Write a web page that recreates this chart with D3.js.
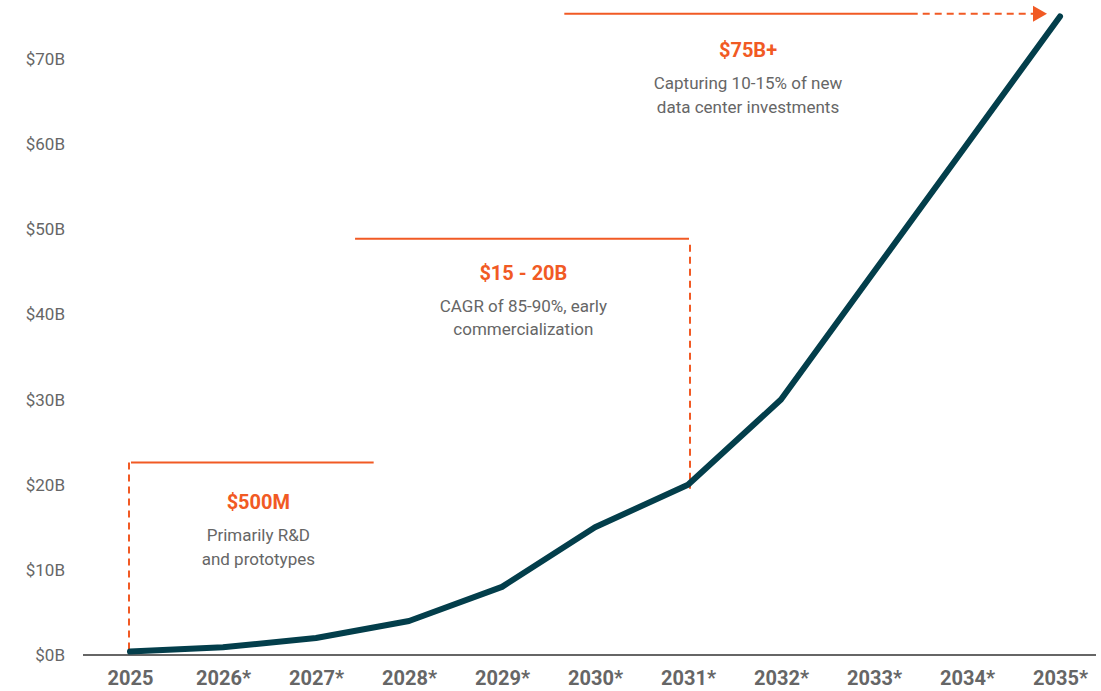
<!DOCTYPE html>
<html>
<head>
<meta charset="utf-8">
<script src="https://cdn.jsdelivr.net/npm/d3@7"></script>
<style>
  body { margin: 0; background: #fff; }
  text { font-family: Roboto, "Open Sans", sans-serif; }
</style>
</head>
<body>
<div id="chart"></div>
<script>
const width = 1101;
const height = 691;

// market size, $B
const years = ["2025", "2026*", "2027*", "2028*", "2029*", "2030*", "2031*", "2032*", "2033*", "2034*", "2035*"];
const values = [0.4, 0.9, 2, 4, 8, 15, 20, 30, 45, 60, 75];
const yTicks = [0, 10, 20, 30, 40, 50, 60, 70];

// annotation brackets: start/end in year index, level in $B
const noteTitles = ["$500M", "$15 - 20B", "$75B+"];
const noteLines = [
  ["Primarily R&D", "and prototypes"],
  ["CAGR of 85-90%, early", "commercialization"],
  ["Capturing 10-15% of new", "data center investments"]
];
const noteLevels = [22.6, 48.9, 75.3];
const noteFrom = [0, 2.42, 4.67];
const noteTo = [2.62, 6, 9.86];

const orange = "#f15a24";
const grey = "#666";

const svg = d3.select("#chart").append("svg")
    .attr("width", width).attr("height", height);

const x = d3.scaleLinear().domain([0, 10]).range([130, 1060]);
const y = d3.scaleLinear().domain([0, 70]).range([655, 59]);

// y labels
svg.append("g")
    .attr("transform", "translate(65,0)")
    .call(d3.axisLeft(y).tickValues(yTicks).tickSize(0).tickPadding(0).tickFormat(d => `$${d}B`))
    .call(g => g.select(".domain").remove())
    .selectAll("text")
    .attr("font-size", 17).attr("fill", grey)
    .attr("font-family", "Roboto, sans-serif");

// x axis
const xAxis = svg.append("g")
    .attr("transform", `translate(0,${y(0)})`)
    .call(d3.axisBottom(x).tickValues(d3.range(years.length)).tickSize(0).tickPadding(16)
        .tickFormat(i => years[i]));
xAxis.select(".domain").remove();
xAxis.selectAll("text")
    .attr("font-size", 20).attr("font-weight", "bold").attr("fill", grey)
    .attr("font-family", "Roboto, sans-serif");
svg.append("line")
    .attr("x1", 83).attr("x2", 1096)
    .attr("y1", y(0)).attr("y2", y(0))
    .attr("stroke", grey).attr("stroke-width", 2);

// brackets
const notes = svg.append("g");

// note 1: dashed left side, solid top
notes.append("line")
    .attr("x1", x(noteFrom[0]) - 1).attr("x2", x(noteFrom[0]) - 1)
    .attr("y1", y(noteLevels[0])).attr("y2", y(0) - 5)
    .attr("stroke", orange).attr("stroke-width", 2).attr("stroke-dasharray", "7,5");
notes.append("line")
    .attr("x1", x(noteFrom[0]) + 1).attr("x2", x(noteTo[0]))
    .attr("y1", y(noteLevels[0])).attr("y2", y(noteLevels[0]))
    .attr("stroke", orange).attr("stroke-width", 2);

// note 2: solid top, dashed right side
notes.append("line")
    .attr("x1", x(noteFrom[1])).attr("x2", x(noteTo[1]) + 1)
    .attr("y1", y(noteLevels[1])).attr("y2", y(noteLevels[1]))
    .attr("stroke", orange).attr("stroke-width", 2);
notes.append("line")
    .attr("x1", x(noteTo[1]) + 2).attr("x2", x(noteTo[1]) + 2)
    .attr("y1", y(noteLevels[1]) + 6).attr("y2", y(values[6]) + 4)
    .attr("stroke", orange).attr("stroke-width", 2).attr("stroke-dasharray", "7,5");

// note 3: solid then dashed arrow
const solidEnd = 8.47;
notes.append("line")
    .attr("x1", x(noteFrom[2])).attr("x2", x(solidEnd))
    .attr("y1", y(noteLevels[2])).attr("y2", y(noteLevels[2]))
    .attr("stroke", orange).attr("stroke-width", 2);
notes.append("line")
    .attr("x1", x(solidEnd) + 5).attr("x2", x(noteTo[2]) - 12)
    .attr("y1", y(noteLevels[2])).attr("y2", y(noteLevels[2]))
    .attr("stroke", orange).attr("stroke-width", 2).attr("stroke-dasharray", "7,5");
const ax = x(noteTo[2]), ay = y(noteLevels[2]);
notes.append("path")
    .attr("d", `M${ax - 14},${ay - 8}L${ax},${ay}L${ax - 14},${ay + 8}Z`)
    .attr("fill", orange);

// note text
const textCenters = [1.38, 4.23, 6.645];
const titleLevels = [17.1, 44.1, 70.2];
noteTitles.forEach((t, i) => {
  const cx = x(textCenters[i]);
  const ty = y(titleLevels[i]);
  notes.append("text")
      .attr("x", cx).attr("y", ty)
      .attr("text-anchor", "middle")
      .attr("font-size", 20).attr("font-weight", "bold").attr("fill", orange)
      .text(t);
  noteLines[i].forEach((l, j) => {
    notes.append("text")
        .attr("x", cx).attr("y", ty + 32 + j * 23.5)
        .attr("text-anchor", "middle")
        .attr("font-size", 17).attr("fill", grey)
        .text(l);
  });
});

// main line
const line = d3.line()
    .x((d, i) => x(i))
    .y(d => y(d));

svg.append("path")
    .datum(values)
    .attr("d", line)
    .attr("fill", "none")
    .attr("stroke", "#033e4b")
    .attr("stroke-width", 6)
    .attr("stroke-linecap", "round")
    .attr("stroke-linejoin", "round");
</script>
</body>
</html>
